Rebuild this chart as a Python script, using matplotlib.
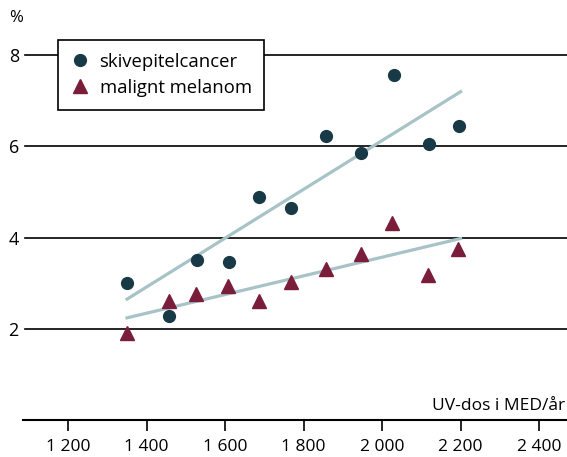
import matplotlib
matplotlib.use("Agg")
import matplotlib.pyplot as plt

# UV-dos (MED/år) och incidens (%)
skive_x = [1350, 1457, 1528, 1610, 1687, 1767, 1857, 1946, 2029, 2120, 2197]
skive_y = [3.0, 2.27, 3.51, 3.47, 4.88, 4.66, 6.23, 5.86, 7.56, 6.05, 6.45]
melanom_x = [1350, 1457, 1525, 1607, 1687, 1767, 1857, 1946, 2026, 2118, 2194]
melanom_y = [1.91, 2.62, 2.77, 2.94, 2.62, 3.03, 3.32, 3.65, 4.32, 3.19, 3.76]

# trendlinjer (start- och slutpunkt)
skive_trend_x = [1350, 2200]
skive_trend_y = [2.65, 7.20]
melanom_trend_x = [1350, 2200]
melanom_trend_y = [2.24, 3.98]

xticks = [1200, 1400, 1600, 1800, 2000, 2200, 2400]
xticklabels = ["1 200", "1 400", "1 600", "1 800", "2 000", "2 200", "2 400"]
yticks = [2, 4, 6, 8]

plt.rcParams["font.family"] = ["Open Sans", "DejaVu Sans"]

fig = plt.figure(figsize=(5.67, 4.57), dpi=100)
ax = fig.add_axes([23 / 567, 37 / 457, 1 - 23 / 567, 1 - 37 / 457])
ax.set_xlim(1085, 2471)
ax.set_ylim(0, 420 / 45.6)

for y in yticks:
    ax.axhline(y, xmin=2 / 544, color="black", lw=1.2, zorder=1)

trend_color = "#a8c3c7"
ax.plot(skive_trend_x, skive_trend_y, color=trend_color, lw=2.3, zorder=2)
ax.plot(melanom_trend_x, melanom_trend_y, color=trend_color, lw=2.3, zorder=2)

ax.plot(skive_x, skive_y, "o", color="#173a46", ms=8.5, ls="none",
        label="skivepitelcancer", zorder=3)
ax.plot(melanom_x, melanom_y, "^", color="#7a1d3b", ms=10, ls="none",
        label="malignt melanom", zorder=3)

for s in ["top", "right", "left"]:
    ax.spines[s].set_visible(False)
ax.spines["bottom"].set_linewidth(1.5)

ax.set_xticks(xticks)
ax.set_xticklabels(xticklabels, fontsize=12.5)
ax.tick_params(axis="x", direction="out", length=8, width=1.2, pad=6)
ax.set_yticks(yticks)
ax.set_yticklabels([str(v) for v in yticks], fontsize=13)
ax.tick_params(axis="y", length=0, pad=3)

ax.text(0.997, 0.22, "UV-dos i MED/år", transform=ax.get_yaxis_transform(),
        ha="right", va="baseline", fontsize=12.5)
fig.text(16 / 567, 1 - 18 / 457, "%", ha="center", va="center", fontsize=12)

leg = ax.legend(loc="upper left", bbox_to_anchor=(35 / 544, 1 - 40 / 420),
                frameon=True, fancybox=False, edgecolor="black", framealpha=1,
                fontsize=13.3, handlelength=1.0, handletextpad=0.55,
                borderpad=0.7, labelspacing=0.42, borderaxespad=0)
leg.get_frame().set_linewidth(1.2)

fig.savefig("out.png", dpi=100)
